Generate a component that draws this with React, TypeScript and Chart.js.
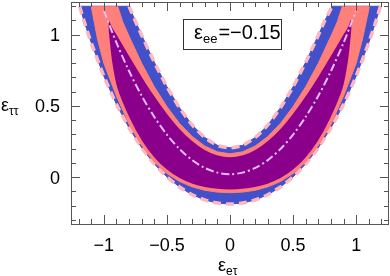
import React, { useEffect, useRef } from 'react';
import { Chart, registerables } from 'chart.js';
Chart.register(...registerables);

const X_MIN = -1.26, X_MAX = 1.26, Y_MIN = -0.33, Y_MAX = 1.23;
const xMajorTicks = [-1, -0.5, 0, 0.5, 1];
const xTickLabels = ['\u22121', '\u22120.5', '0', '0.5', '1'];
const yMajorTicks = [0, 0.5, 1];
const yTickLabels = ['0', '0.5', '1'];
const legendValue = '=\u22120.15';

// boundaries (x, y)
const blueOuter: number[][] = [
  [-1.192, 1.2], [-1.15, 1.077], [-1.1, 0.945], [-1.0, 0.71], [-0.9, 0.511], [-0.8, 0.345], [-0.7, 0.206],
  [-0.6, 0.092], [-0.5, 0.001], [-0.4, -0.07], [-0.3, -0.124], [-0.2, -0.161], [-0.1, -0.183], [0, -0.19],
  [0.1, -0.183], [0.2, -0.161], [0.3, -0.124], [0.4, -0.07], [0.5, 0.001], [0.6, 0.092], [0.7, 0.206],
  [0.8, 0.345], [0.9, 0.511], [1.0, 0.71], [1.1, 0.945], [1.15, 1.077], [1.192, 1.2],
];
const blueInner: number[][] = [
  [-0.8, 1.2], [-0.75, 1.096], [-0.7, 0.997], [-0.6, 0.807], [-0.5, 0.635], [-0.4, 0.487], [-0.3, 0.366],
  [-0.2, 0.278], [-0.1, 0.223], [0, 0.205], [0.1, 0.223], [0.2, 0.278], [0.3, 0.366], [0.4, 0.487],
  [0.5, 0.635], [0.6, 0.807], [0.7, 0.997], [0.75, 1.096], [0.81, 1.2],
];
const salmonOuter: number[][] = [
  [-1.1, 1.2], [-1.05, 0.97], [-1.0, 0.8], [-0.9, 0.57], [-0.8, 0.37], [-0.7, 0.222], [-0.6, 0.105],
  [-0.5, 0.025], [-0.4, -0.031], [-0.3, -0.069], [-0.2, -0.093], [-0.1, -0.106], [0, -0.11],
  [0.1, -0.106], [0.2, -0.093], [0.3, -0.069], [0.4, -0.031], [0.5, 0.025], [0.6, 0.105], [0.7, 0.222],
  [0.8, 0.37], [0.9, 0.57], [1.0, 0.8], [1.05, 0.97], [1.105, 1.2],
];
const salmonInner: number[][] = [
  [-0.89, 1.2], [-0.85, 1.09], [-0.8, 0.99], [-0.7, 0.8], [-0.6, 0.635], [-0.5, 0.495], [-0.4, 0.377],
  [-0.3, 0.285], [-0.2, 0.218], [-0.1, 0.177], [0, 0.163], [0.1, 0.177], [0.2, 0.218], [0.3, 0.285],
  [0.4, 0.377], [0.5, 0.495], [0.6, 0.635], [0.7, 0.8], [0.8, 0.99], [0.85, 1.09], [0.89, 1.2],
];
const purpleLower: number[][] = [
  [-0.96, 1.125], [-0.97, 1.06], [-0.96, 0.95], [-0.94, 0.8], [-0.9, 0.624], [-0.8, 0.408], [-0.7, 0.246],
  [-0.6, 0.128], [-0.5, 0.044], [-0.4, -0.015], [-0.3, -0.053], [-0.2, -0.077], [-0.1, -0.09], [0, -0.094],
  [0.1, -0.09], [0.2, -0.077], [0.3, -0.053], [0.4, -0.015], [0.5, 0.044], [0.6, 0.128], [0.7, 0.246],
  [0.8, 0.408], [0.9, 0.624], [0.94, 0.8], [0.96, 0.95], [0.97, 1.06], [0.96, 1.125],
];
const purpleUpper: number[][] = [
  [-0.93, 1.06], [-0.9, 1.015], [-0.8, 0.865], [-0.7, 0.718], [-0.6, 0.58], [-0.5, 0.456], [-0.4, 0.348],
  [-0.3, 0.262], [-0.2, 0.198], [-0.1, 0.159], [0, 0.146], [0.1, 0.159], [0.2, 0.198], [0.3, 0.262],
  [0.4, 0.348], [0.5, 0.456], [0.6, 0.58], [0.7, 0.718], [0.8, 0.865], [0.9, 1.015], [0.93, 1.06],
];
const centerLine: number[][] = [
  [-1.0, 1.17], [-0.9, 0.944], [-0.8, 0.745], [-0.7, 0.571], [-0.6, 0.423], [-0.5, 0.298], [-0.4, 0.197],
  [-0.3, 0.119], [-0.2, 0.064], [-0.1, 0.031], [0, 0.02], [0.1, 0.031], [0.2, 0.064], [0.3, 0.119],
  [0.4, 0.197], [0.5, 0.298], [0.6, 0.423], [0.7, 0.571], [0.8, 0.745], [0.9, 0.944], [1.0, 1.17],
];

const BLUE = '#4251c9';
const SALMON = '#ff7f7a';
const PURPLE = '#8b008b';
const PINK = '#ffb6c1';
const LAVENDER = '#e2bdf7';
const AXIS = '#555555';
const FONT = '"Liberation Sans", Arial, sans-serif';

const toPts = (a: number[][]) => a.map(([x, y]) => ({ x, y }));
const polygon = (lower: number[][], upper: number[][]) =>
  toPts([...lower, ...[...upper].reverse(), lower[0]]);

const framePlugin = {
  id: 'frame',
  afterDatasetsDraw(chart: any) {
    const { ctx, chartArea: a, scales } = chart;
    const xs = scales.x, ys = scales.y;
    ctx.save();
    ctx.strokeStyle = AXIS;
    ctx.lineWidth = 1;
    const tick = (px: number, horizontal: boolean, len: number) => {
      ctx.beginPath();
      if (horizontal) {
        ctx.moveTo(px, a.bottom); ctx.lineTo(px, a.bottom - len);
        ctx.moveTo(px, a.top); ctx.lineTo(px, a.top + len);
      } else {
        ctx.moveTo(a.left, px); ctx.lineTo(a.left + len, px);
        ctx.moveTo(a.right, px); ctx.lineTo(a.right - len, px);
      }
      ctx.stroke();
    };
    for (let i = -12; i <= 12; i++) {
      const major = i % 5 === 0;
      tick(Math.round(xs.getPixelForValue(i / 10)) + 0.5, true, major ? 9 : 5);
    }
    for (let i = -3; i <= 12; i++) {
      const major = i % 5 === 0;
      tick(Math.round(ys.getPixelForValue(i / 10)) + 0.5, false, major ? 9 : 5);
    }
    ctx.strokeRect(Math.round(a.left) + 0.5, Math.round(a.top) + 0.5, Math.round(a.right - a.left) - 1, Math.round(a.bottom - a.top));
    ctx.fillStyle = '#000';
    ctx.font = `18px ${FONT}`;
    ctx.textBaseline = 'alphabetic';
    ctx.textAlign = 'center';
    xMajorTicks.forEach((v, i) => ctx.fillText(xTickLabels[i], xs.getPixelForValue(v), 251));
    ctx.textAlign = 'right';
    yMajorTicks.forEach((v, i) => ctx.fillText(yTickLabels[i], 60, ys.getPixelForValue(v) + 6.5));
    ctx.textAlign = 'left';
    ctx.font = `18px ${FONT}`;
    ctx.fillText('\u03b5', 1, 111);
    let w = ctx.measureText('\u03b5').width;
    ctx.font = `12px ${FONT}`;
    ctx.fillText('\u03c4\u03c4', 1 + w, 115);
    ctx.font = `18px ${FONT}`;
    ctx.fillText('\u03b5', 218, 271);
    w = ctx.measureText('\u03b5').width;
    ctx.font = `12px ${FONT}`;
    ctx.fillText('e\u03c4', 218 + w, 275);
    ctx.fillStyle = '#fff';
    ctx.fillRect(183.5, 19.5, 98, 30);
    ctx.strokeStyle = '#333';
    ctx.strokeRect(183.5, 19.5, 98, 30);
    ctx.fillStyle = '#000';
    ctx.font = `20px ${FONT}`;
    let x = 194;
    ctx.fillText('\u03b5', x, 39);
    x += ctx.measureText('\u03b5').width;
    ctx.font = `13px ${FONT}`;
    ctx.fillText('ee', x, 43);
    x += ctx.measureText('ee').width + 1;
    ctx.font = `20px ${FONT}`;
    ctx.fillText(legendValue, x, 39);
    ctx.restore();
  },
};

export default function App() {
  const ref = useRef<HTMLCanvasElement | null>(null);
  useEffect(() => {
    document.body.style.margin = '0';
    const canvas = ref.current!;
    const chart = new Chart(canvas, {
      type: 'line',
      data: {
        datasets: [
          {
            data: toPts(centerLine), borderColor: LAVENDER, borderWidth: 2, borderDash: [8, 3, 2, 3],
            pointRadius: 0, fill: false, tension: 0.3, order: 0,
          },
          {
            data: polygon(purpleLower, purpleUpper), borderColor: SALMON, borderWidth: 2, backgroundColor: PURPLE,
            pointRadius: 0, fill: 'shape', tension: 0.3, order: 1,
          },
          {
            data: polygon(salmonOuter, salmonInner), borderColor: SALMON, borderWidth: 1, backgroundColor: SALMON,
            pointRadius: 0, fill: 'shape', tension: 0, order: 2,
          },
          {
            data: toPts(blueOuter), borderColor: PINK, borderWidth: 3.5, borderDash: [8, 5],
            pointRadius: 0, fill: false, tension: 0.2, order: 3,
          },
          {
            data: toPts(blueInner), borderColor: PINK, borderWidth: 3.5, borderDash: [8, 5],
            pointRadius: 0, fill: false, tension: 0.2, order: 3,
          },
          {
            data: polygon(blueOuter, blueInner), borderColor: BLUE, borderWidth: 1, backgroundColor: BLUE,
            pointRadius: 0, fill: 'shape', tension: 0, order: 4,
          },
        ] as any,
      },
      options: {
        responsive: false,
        animation: false,
        events: [],
        layout: { padding: { left: 71, right: 1, top: 2, bottom: 52 } },
        plugins: { legend: { display: false }, tooltip: { enabled: false } },
        scales: {
          x: { type: 'linear', min: X_MIN, max: X_MAX, display: false },
          y: { type: 'linear', min: Y_MIN, max: Y_MAX, display: false },
        },
      },
      plugins: [framePlugin],
    });
    return () => chart.destroy();
  }, []);
  return (
    <div style={{ width: 390, height: 276 }}>
      <canvas ref={ref} width={390} height={276} style={{ width: 390, height: 276, display: 'block' }} />
    </div>
  );
}
